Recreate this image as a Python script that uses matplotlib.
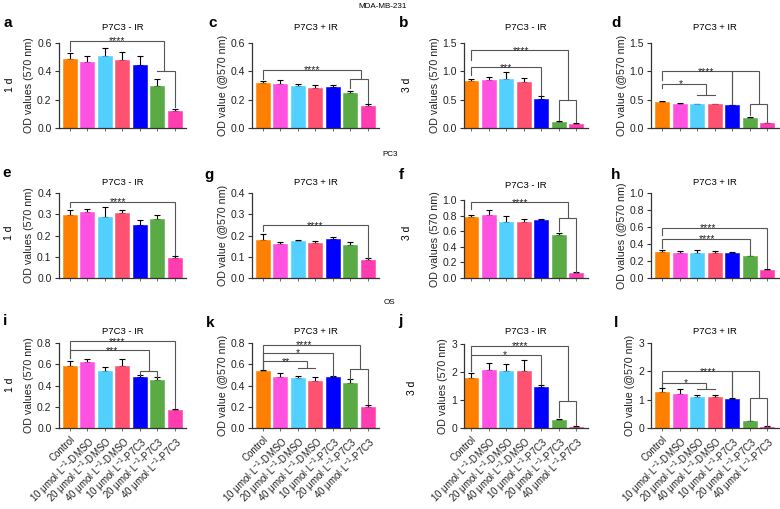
import matplotlib.pyplot as plt
import numpy as np
from matplotlib.ticker import FormatStrFormatter

plt.rcParams['font.family'] = ['Liberation Sans', 'DejaVu Sans']
plt.rcParams['mathtext.fontset'] = 'custom'
plt.rcParams['mathtext.rm'] = 'Liberation Sans'

W, H = 780, 509

groups = ['Control',
          '10 μmol·L$^{-1}$-DMSO', '20 μmol·L$^{-1}$-DMSO', '40 μmol·L$^{-1}$-DMSO',
          '10 μmol·L$^{-1}$-P7C3', '20 μmol·L$^{-1}$-P7C3', '40 μmol·L$^{-1}$-P7C3']
colors = ['#FF8000', '#FF52E0', '#52D0FF', '#FF5270', '#0000FF', '#5AAA46', '#FF3CB0']

# MDA-MB-231
a_means = [0.49, 0.465, 0.505, 0.48, 0.445, 0.30, 0.12]
a_errs = [0.04, 0.045, 0.06, 0.055, 0.06, 0.045, 0.015]
c_means = [0.315, 0.31, 0.295, 0.28, 0.29, 0.25, 0.155]
c_errs = [0.02, 0.03, 0.015, 0.025, 0.015, 0.008, 0.015]
b_means = [0.83, 0.84, 0.865, 0.81, 0.51, 0.11, 0.075]
b_errs = [0.03, 0.065, 0.115, 0.08, 0.055, 0.01, 0.005]
d_means = [0.46, 0.43, 0.42, 0.42, 0.40, 0.18, 0.08]
d_errs = [0.015, 0.015, 0.005, 0.01, 0.005, 0.01, 0.005]
# PC3
e_means = [0.295, 0.312, 0.287, 0.306, 0.251, 0.279, 0.094]
e_errs = [0.023, 0.014, 0.047, 0.016, 0.02, 0.019, 0.008]
g_means = [0.18, 0.158, 0.173, 0.165, 0.183, 0.157, 0.086]
g_errs = [0.028, 0.012, 0.007, 0.007, 0.01, 0.014, 0.008]
f_means = [0.78, 0.81, 0.72, 0.72, 0.74, 0.557, 0.064]
f_errs = [0.03, 0.06, 0.07, 0.04, 0.017, 0.026, 0.008]
h_means = [0.305, 0.30, 0.30, 0.30, 0.30, 0.259, 0.10]
h_errs = [0.02, 0.02, 0.025, 0.014, 0.01, 0.004, 0.002]
# OS
i_means = [0.584, 0.62, 0.54, 0.584, 0.48, 0.455, 0.17]
i_errs = [0.046, 0.026, 0.035, 0.066, 0.02, 0.022, 0.01]
k_means = [0.533, 0.48, 0.467, 0.445, 0.48, 0.42, 0.195]
k_errs = [0.01, 0.04, 0.023, 0.032, 0.006, 0.038, 0.025]
j_means = [1.78, 2.07, 2.02, 2.02, 1.46, 0.27, 0.05]
j_errs = [0.19, 0.24, 0.27, 0.41, 0.08, 0.04, 0.01]
l_means = [1.28, 1.2, 1.09, 1.1, 1.02, 0.235, 0.05]
l_errs = [0.13, 0.18, 0.09, 0.08, 0.05, 0.015, 0.005]

# significance brackets: (x left, x right, y top, y left end, y right end)
a_br = [(0, 5.4, 0.615, 0.545, 0.40), (5, 6, 0.40, 0.40, 0.145)]
a_st = [(2.7, 0.615, '****')]
c_br = [(0, 5.6, 0.41, 0.345, 0.345), (5, 6, 0.345, 0.285, 0.175)]
c_st = [(2.8, 0.41, '****')]
b_br = [(0, 4, 1.07, 0.94, 0.58), (0, 5.5, 1.37, 1.2, 0.5), (5, 6, 0.5, 0.135, 0.1)]
b_st = [(1.96, 1.07, '***'), (2.83, 1.37, '****')]
d_br = [(0, 2.5, 0.78, 0.70, 0.59), (2, 3, 0.59, 0.59, 0.59), (0, 5.5, 1.0, 0.85, 0.42),
        (4, 4, 1.0, 0.42, 0.42), (5, 6, 0.42, 0.225, 0.107)]
d_st = [(1.05, 0.78, '*'), (2.5, 1.0, '****')]
e_br = [(0, 6, 0.358, 0.334, 0.11)]
e_st = [(2.78, 0.358, '****')]
g_br = [(0, 6, 0.248, 0.22, 0.095)]
g_st = [(3.0, 0.248, '****')]
f_br = [(0, 5.5, 0.97, 0.89, 0.766), (5, 6, 0.766, 0.6, 0.077)]
f_st = [(2.8, 0.97, '****')]
h_br = [(0, 6, 0.59, 0.51, 0.118), (0, 5, 0.46, 0.35, 0.275)]
h_st = [(2.6, 0.59, '****'), (2.57, 0.46, '****')]
i_br = [(0, 6, 0.815, 0.66, 0.19), (0, 4.5, 0.73, 0.66, 0.54), (4, 5, 0.54, 0.50, 0.48)]
i_st = [(2.7, 0.815, '****'), (2.43, 0.73, '***')]
k_br = [(0, 5.55, 0.785, 0.555, 0.56), (5, 6, 0.56, 0.465, 0.226), (0, 4, 0.705, 0.555, 0.49),
        (0, 2.5, 0.627, 0.555, 0.565), (2, 3, 0.565, 0.565, 0.565)]
k_st = [(2.38, 0.785, '****'), (2.0, 0.705, '*'), (1.29, 0.627, '**')]
j_br = [(0, 5.5, 2.94, 2.05, 0.95), (5, 6, 0.95, 0.39, 0.1), (0, 4, 2.62, 2.05, 1.58)]
j_st = [(2.8, 2.94, '****'), (1.93, 2.62, '*')]
l_br = [(0, 5.5, 2.0, 1.45, 1.06), (4, 4, 2.0, 1.09, 1.09), (5, 6, 1.06, 0.29, 0.08),
        (0, 2.5, 1.59, 1.45, 1.38), (2, 3, 1.38, 1.38, 1.38)]
l_st = [(2.62, 2.0, '****'), (1.34, 1.59, '*')]

minus_lab = 'OD values (570 nm)'
plus_lab = 'OD value (@570 nm)'

fig = plt.figure(figsize=(W / 100, H / 100), dpi=100)

col_left = [58.5, 252, 464, 651]
col_off = [0.65, 0.62, 0.42, 0.65]
PITCH = 17.5


def panel(col, top_px, bot_px, means, errs, ytop, step, fmt, br, st, ylab, bottom=False):
    left = col_left[col]
    wpx = (6.65 + col_off[col]) * PITCH
    ax = fig.add_axes([left / W, 1 - bot_px / H, wpx / W, (bot_px - top_px) / H])
    x = np.arange(len(means))
    ax.bar(x, means, width=0.8, color=colors, edgecolor=colors, linewidth=0.4, zorder=2)
    ax.errorbar(x, means, yerr=[np.zeros(len(errs)), errs], fmt='none', ecolor='black',
                elinewidth=0.8, capsize=2.5, capthick=0.8, zorder=1)
    ax.set_xlim(-col_off[col], 6.65)
    ax.set_ylim(0, ytop)
    ax.set_yticks(np.arange(0, ytop + step / 2, step))
    ax.yaxis.set_major_formatter(FormatStrFormatter(fmt))
    ax.set_xticks(x)
    for s in ['top', 'right']:
        ax.spines[s].set_visible(False)
    for s in ['left', 'bottom']:
        ax.spines[s].set_linewidth(0.9)
        ax.spines[s].set_color('#333333')
    ax.tick_params(axis='y', length=3, width=0.8, labelsize=7.5, pad=2, colors='#333333', labelcolor='#222222')
    ax.tick_params(axis='x', length=2.5, width=0.6, pad=2, colors='#555555')
    if bottom:
        ax.set_xticklabels(groups, rotation=45, ha='right', rotation_mode='anchor',
                           fontsize=7, color='#222222')
    else:
        ax.set_xticklabels([])
    for x1, x2, yt, y1, y2 in br:
        ax.plot([x1, x1, x2, x2], [y1, yt, yt, y2], color='#555555', lw=0.8, clip_on=False,
                solid_joinstyle='miter')
    for sx, sy, s in st:
        ax.annotate(s, (sx, sy), xytext=(0, -2.5), textcoords='offset points', ha='center',
                    va='baseline', fontsize=7.5, annotation_clip=False, color='#222222')
    ax.set_ylabel(ylab, fontsize=7.7, labelpad=2, color='#222222')
    return left + wpx / 2


def ftext(xp, yp, s, **kw):
    fig.text(xp / W, 1 - yp / H, s, **kw)


# row 1
cx = panel(0, 43, 128, a_means, a_errs, 0.6, 0.2, '%.1f', a_br, a_st, minus_lab)
ftext(cx, 27, 'P7C3 - IR', ha='center', va='center', fontsize=6.8)
cx = panel(1, 43, 128, c_means, c_errs, 0.6, 0.2, '%.1f', c_br, c_st, plus_lab)
ftext(cx, 27, 'P7C3 + IR', ha='center', va='center', fontsize=6.8)
cx = panel(2, 43, 128, b_means, b_errs, 1.5, 0.5, '%.1f', b_br, b_st, minus_lab)
ftext(cx, 27, 'P7C3 - IR', ha='center', va='center', fontsize=6.8)
cx = panel(3, 43, 128, d_means, d_errs, 1.5, 0.5, '%.1f', d_br, d_st, plus_lab)
ftext(cx, 27, 'P7C3 + IR', ha='center', va='center', fontsize=6.8)

# row 2
cx = panel(0, 193, 278, e_means, e_errs, 0.4, 0.1, '%.1f', e_br, e_st, minus_lab)
ftext(cx, 182, 'P7C3 - IR', ha='center', va='center', fontsize=6.8)
cx = panel(1, 193, 278, g_means, g_errs, 0.4, 0.1, '%.1f', g_br, g_st, plus_lab)
ftext(cx, 182, 'P7C3 + IR', ha='center', va='center', fontsize=6.8)
cx = panel(2, 200, 278, f_means, f_errs, 1.0, 0.2, '%.1f', f_br, f_st, minus_lab)
ftext(cx, 186, 'P7C3 - IR', ha='center', va='center', fontsize=6.8)
cx = panel(3, 193, 278, h_means, h_errs, 1.0, 0.2, '%.1f', h_br, h_st, 'OD values (@570 nm)')
ftext(cx, 182, 'P7C3 + IR', ha='center', va='center', fontsize=6.8)

# row 3
cx = panel(0, 343, 428, i_means, i_errs, 0.8, 0.2, '%.1f', i_br, i_st, minus_lab, True)
ftext(cx, 332, 'P7C3 - IR', ha='center', va='center', fontsize=6.8)
cx = panel(1, 343, 428, k_means, k_errs, 0.8, 0.2, '%.1f', k_br, k_st, plus_lab, True)
ftext(cx, 332, 'P7C3 + IR', ha='center', va='center', fontsize=6.8)
cx = panel(2, 344, 428, j_means, j_errs, 3, 1, '%d', j_br, j_st, minus_lab, True)
ftext(cx, 332, 'P7C3 - IR', ha='center', va='center', fontsize=6.8)
cx = panel(3, 343, 428, l_means, l_errs, 3, 1, '%d', l_br, l_st, plus_lab, True)
ftext(cx, 332, 'P7C3 + IR', ha='center', va='center', fontsize=6.8)

# section headers
ftext(383, 6, 'MDA-MB-231', ha='center', va='center', fontsize=5.8)
ftext(390, 154, 'PC3', ha='center', va='center', fontsize=5.8)
ftext(389, 303, 'OS', ha='center', va='center', fontsize=5.8)

# panel letters
for let, xp, yp in [('a', 3, 27), ('c', 208, 27), ('b', 399, 27), ('d', 611, 27),
                    ('e', 2, 177), ('g', 204, 179), ('f', 399, 179), ('h', 611, 179),
                    ('i', 3, 325), ('k', 206, 327), ('j', 398, 325), ('l', 614, 327)]:
    ftext(xp, yp, let, ha='left', va='baseline', fontsize=11, fontweight='bold')

# row labels
for s, xp, yp in [('1 d', 10, 85), ('3 d', 407, 85), ('1 d', 9, 233), ('3 d', 407, 233),
                  ('1 d', 10, 385), ('3 d', 412, 388)]:
    ftext(xp, yp, s, ha='center', va='center', rotation=90, fontsize=7.5)

fig.savefig('out.png', dpi=100)
